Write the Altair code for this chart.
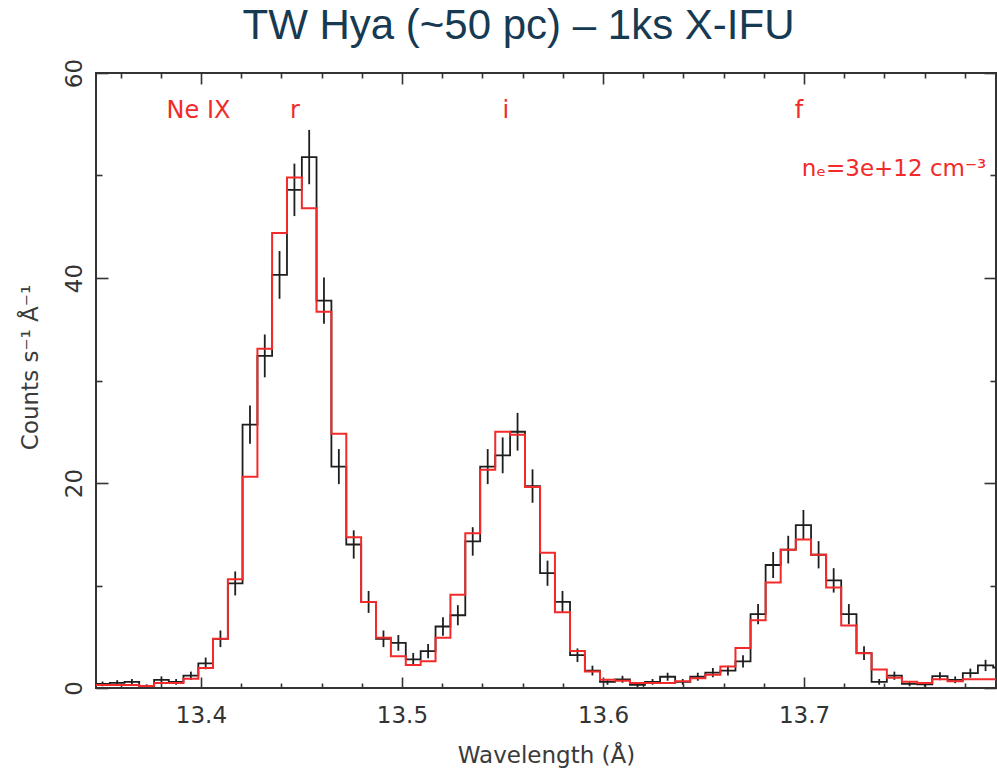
import altair as alt
import pandas as pd

# ---------------- data ----------------
# bin edges of the spectrum (Angstrom), 61 bins
EDGES = [13.3474, 13.3547, 13.3620, 13.3693, 13.3767, 13.3840, 13.3913, 13.3987,
         13.4060, 13.4134, 13.4207, 13.4281, 13.4354, 13.4428, 13.4502, 13.4575,
         13.4649, 13.4723, 13.4797, 13.4871, 13.4945, 13.5019, 13.5093, 13.5167,
         13.5241, 13.5315, 13.5389, 13.5464, 13.5538, 13.5612, 13.5687, 13.5761,
         13.5836, 13.5910, 13.5985, 13.6060, 13.6134, 13.6209, 13.6284, 13.6359,
         13.6434, 13.6509, 13.6584, 13.6659, 13.6734, 13.6809, 13.6884, 13.6959,
         13.7035, 13.7110, 13.7185, 13.7261, 13.7336, 13.7412, 13.7487, 13.7563,
         13.7638, 13.7714, 13.7790, 13.7865, 13.7941, 13.8017]

# model (red histogram), counts s^-1 A^-1
MODEL = [0.3, 0.3, 0.3, 0.2, 0.5, 0.5, 0.9, 1.95, 4.8, 10.6, 20.6, 33.1, 44.4, 49.8,
         46.8, 36.7, 24.8, 14.7, 8.4, 4.9, 3.1, 2.25, 2.6, 4.9, 9.1, 15.1, 21.3, 25.0,
         24.7, 19.6, 13.2, 7.4, 3.6, 1.6, 0.8, 0.7, 0.5, 0.5, 0.5, 0.65, 0.95, 1.3, 2.1,
         3.9, 6.6, 10.3, 13.5, 14.5, 13.0, 9.8, 6.1, 3.4, 1.8, 1.0, 0.6, 0.5, 0.85, 0.65,
         0.85, 0.85, 0.85]

# simulated data (black histogram) and its 1-sigma errors
DATA = [0.4, 0.5, 0.6, 0.2, 0.8, 0.6, 1.2, 2.4, 4.8, 10.2, 25.7, 32.4, 40.3, 48.6,
        51.8, 37.8, 21.6, 14.0, 8.4, 4.8, 4.4, 2.8, 3.6, 6.0, 7.1, 14.3, 21.6, 22.7,
        25.0, 19.7, 11.2, 8.4, 3.2, 1.7, 0.6, 0.85, 0.3, 0.6, 1.1, 0.6, 1.1, 1.5, 1.7,
        2.6, 7.2, 12.0, 13.5, 15.9, 13.0, 10.5, 7.2, 3.4, 0.6, 1.2, 0.4, 0.35, 1.15, 0.8,
        1.45, 2.2, 2.0]
ERR = [0.23, 0.26, 0.28, 0.16, 0.33, 0.28, 0.40, 0.57, 0.81, 1.17, 1.86, 2.09, 2.33,
       2.56, 2.65, 2.26, 1.71, 1.38, 1.07, 0.81, 0.77, 0.62, 0.70, 0.90, 0.98, 1.39,
       1.71, 1.75, 1.84, 1.63, 1.23, 1.07, 0.66, 0.48, 0.28, 0.34, 0.20, 0.28, 0.39,
       0.28, 0.39, 0.45, 0.48, 0.59, 0.99, 1.27, 1.35, 1.47, 1.33, 1.19, 0.99, 0.68,
       0.28, 0.40, 0.23, 0.22, 0.39, 0.33, 0.44, 0.55, 0.52]

LINE_LABELS = ["Ne IX", "r", "i", "f"]
LINE_WL = [13.3988, 13.4468, 13.5517, 13.6975]
LINE_Y = [55.6, 55.6, 55.6, 55.6]
DENS_TEXT = ["nₑ=3e+12 cm⁻³"]
DENS_WL = [13.6989]
DENS_Y = [50.0]

X_MAJOR = [13.4, 13.5, 13.6, 13.7]
X_MINOR = [13.36, 13.38, 13.42, 13.44, 13.46, 13.48, 13.52, 13.54, 13.56, 13.58,
           13.62, 13.64, 13.66, 13.68, 13.72, 13.74, 13.76, 13.78]
Y_MAJOR = [0, 20, 40, 60]
Y_MINOR = [10, 30, 50]

TITLE = "TW Hya (~50 pc) – 1ks X-IFU"
X_TITLE = "Wavelength (Å)"
Y_TITLE = "Counts s⁻¹ Å⁻¹"

# ---------------- tables ----------------
n = len(MODEL)
model_df = pd.DataFrame({"wl": EDGES, "v": MODEL + [MODEL[-1]]})
data_df = pd.DataFrame({"wl": EDGES, "v": DATA + [DATA[-1]]})
centers = [(EDGES[i] + EDGES[i + 1]) / 2 for i in range(n)]
err_df = pd.DataFrame({
    "wl": centers,
    "lo": [d - e for d, e in zip(DATA, ERR)],
    "hi": [d + e for d, e in zip(DATA, ERR)],
})
lab_df = pd.DataFrame({"wl": LINE_WL, "y": LINE_Y, "t": LINE_LABELS})
dens_df = pd.DataFrame({"wl": DENS_WL, "y": DENS_Y, "t": DENS_TEXT})

FONT = "DejaVu Sans"
AX = "#333333"
RED = "#f22a2a"
BLACK = "#1e1e1e"

xs = alt.Scale(domain=[13.3478, 13.7955], nice=False, zero=False)
ys = alt.Scale(domain=[0, 60], nice=False, zero=False)


def tick_axis(orient, values, size, **extra):
    return alt.Axis(orient=orient, values=values, labels=False, domain=False,
                    grid=False, ticks=True, tickSize=size, offset=-size,
                    tickColor=AX, tickWidth=1.6, **extra)


x_main = alt.Axis(orient="bottom", values=X_MAJOR, format=".1f", labelFont=FONT,
                  labelFontSize=23, labelColor=AX, labelPadding=34,
                  labelBaseline="alphabetic", ticks=False, tickSize=0,
                  domain=False, grid=False, title=X_TITLE, titleFont=FONT,
                  titleFontSize=23, titleFontWeight="normal", titleColor="#3a3a3a",
                  titleX=450, titleY=74, titleBaseline="alphabetic")
y_main = alt.Axis(orient="left", values=Y_MAJOR, labelFont=FONT, labelFontSize=23,
                  labelColor=AX, labelAngle=270, labelAlign="center",
                  labelBaseline="alphabetic", labelPadding=15, ticks=False,
                  tickSize=0, domain=False, grid=False, title=Y_TITLE,
                  titleFont=FONT, titleFontSize=23, titleFontWeight="normal",
                  titleColor="#3a3a3a", titleAngle=270, titleX=-59, titleY=294,
                  titleBaseline="alphabetic", titleAlign="center")

# the top axis carries the chart's heading, placed above the frame
x_top_major = tick_axis("top", X_MAJOR, 11, title=TITLE, titleFont="Liberation Sans",
                        titleFontSize=42, titleFontWeight="normal",
                        titleColor="#163a52", titleX=422, titleY=-46,
                        titleAngle=0, titleAlign="center",
                        titleBaseline="alphabetic")

data_step = alt.Chart(data_df).mark_line(
    interpolate="step-after", color=BLACK, strokeWidth=1.8, clip=True
).encode(
    x=alt.X("wl:Q", scale=xs, axis=x_main),
    y=alt.Y("v:Q", scale=ys, axis=y_main),
)

err_bars = alt.Chart(err_df).mark_rule(color=BLACK, strokeWidth=1.8, clip=True).encode(
    x=alt.X("wl:Q", scale=xs, axis=tick_axis("bottom", X_MAJOR, 11, title=None)),
    y=alt.Y("lo:Q", scale=ys, axis=tick_axis("left", Y_MAJOR, 12, title=None)),
    y2="hi:Q",
)

model_step = alt.Chart(model_df).mark_line(
    interpolate="step-after", color=RED, strokeWidth=2.0, clip=True
).encode(
    x=alt.X("wl:Q", scale=xs, axis=tick_axis("bottom", X_MINOR, 5, title=None)),
    y=alt.Y("v:Q", scale=ys, axis=tick_axis("left", Y_MINOR, 6, title=None)),
)

line_labels = alt.Chart(lab_df).mark_text(
    font=FONT, fontSize=24, color=RED, align="center", baseline="alphabetic"
).encode(
    x=alt.X("wl:Q", scale=xs, axis=x_top_major),
    y=alt.Y("y:Q", scale=ys, axis=tick_axis("right", Y_MAJOR, 12, title=None)),
    text="t:N",
)

dens_label = alt.Chart(dens_df).mark_text(
    font=FONT, fontSize=23, color=RED, align="left", baseline="alphabetic"
).encode(
    x=alt.X("wl:Q", scale=xs, axis=tick_axis("top", X_MINOR, 5, title=None)),
    y=alt.Y("y:Q", scale=ys, axis=tick_axis("right", Y_MINOR, 6, title=None)),
    text="t:N",
)

chart = alt.layer(
    data_step, err_bars, model_step, line_labels, dens_label
).resolve_axis(
    x="independent", y="independent"
).properties(
    width=900,
    height=615,
    autosize=alt.AutoSizeParams(type="none"),
    padding={"left": 96, "top": 73, "right": 1, "bottom": 90},
).configure_view(
    stroke=AX, strokeWidth=2
)

chart.save("out.html", embed_options={"renderer": "svg", "actions": False})
